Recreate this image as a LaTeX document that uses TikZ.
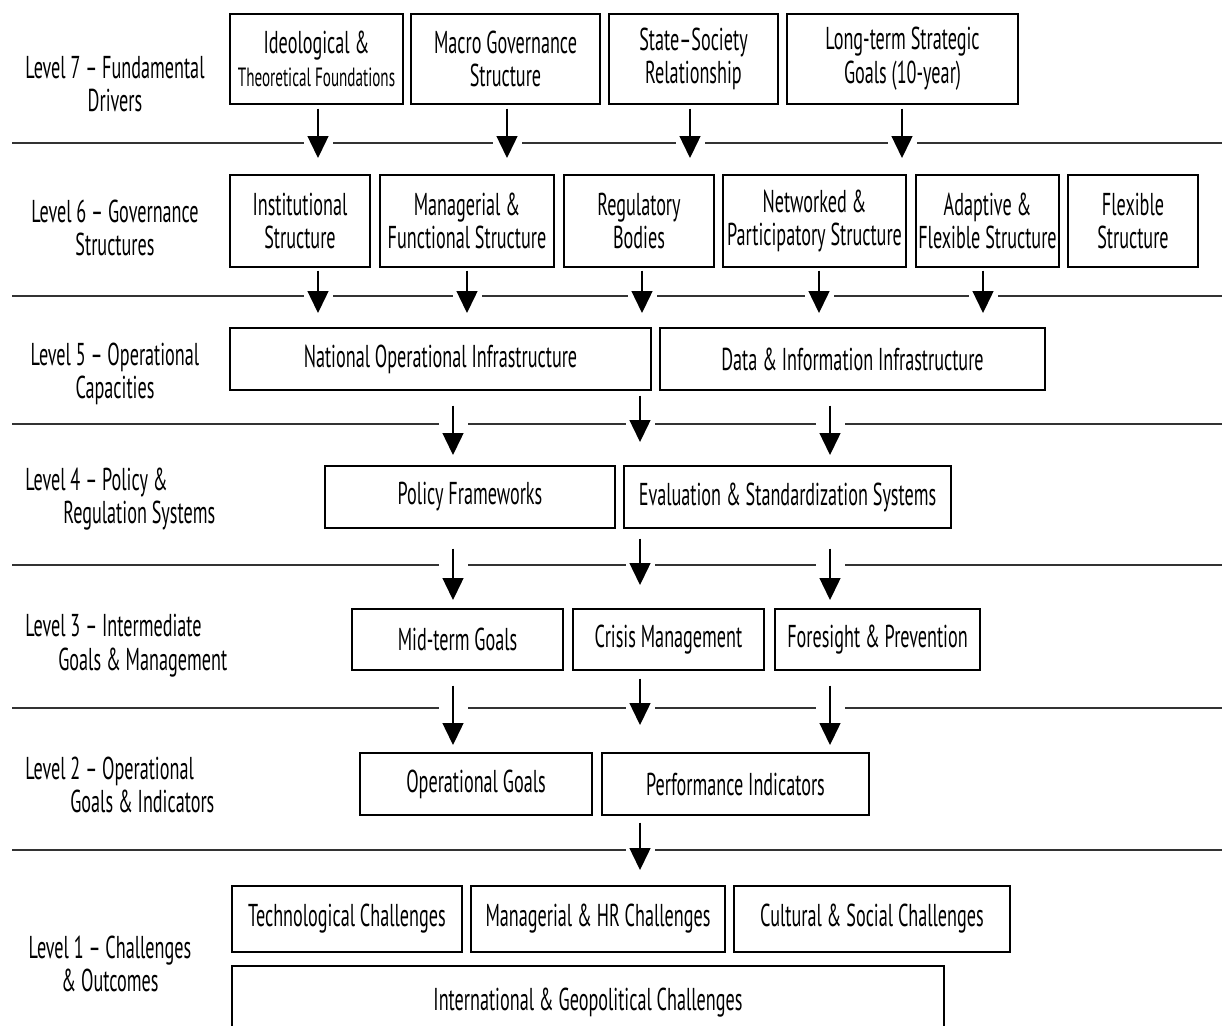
\documentclass[tikz,border=0pt]{standalone}
\usepackage{fontspec}
\setmainfont{PT Sans}[FakeStretch=0.575]
\usetikzlibrary{arrows.meta}

\newcommand{\boxfont}{\fontsize{18}{19.2}\selectfont}
\newcommand{\smallboxfont}{\fontsize{15}{19.2}\selectfont}

\begin{document}
\begin{tikzpicture}[x=0.02cm, y=-0.02cm,
  box/.style={draw, line width=0.8pt, align=center, inner sep=0pt, font=\boxfont},
  lvllabel/.style={inner sep=0pt, font=\boxfont},
  sep/.style={line width=1.1pt, black!80},
  flow/.style={line width=0.8pt, -{Triangle[width=0.42cm, length=0.44cm]},
    shorten <=#1, preaction={draw=white, line width=0.58cm, -}}]
  \useasboundingbox (0,0) rectangle (1222,1025);

  % level labels
  \node[lvllabel, align=center] (lvl7) at (115,84) {Level 7 – Fundamental\\Drivers};
  \node[lvllabel, align=center] (lvl6) at (115,228) {Level 6 – Governance\\Structures};
  \node[lvllabel, align=center] (lvl5) at (115,374) {Level 5 – Operational\\Capacities};
  \node[lvllabel, align=left, anchor=west] (lvl4) at (25,499)
    {Level 4 – Policy \&\\\hspace*{0.76cm}Regulation Systems};
  \node[lvllabel, align=left, anchor=west] (lvl3) at (25,646)
    {Level 3 – Intermediate\\\hspace*{0.66cm}Goals \& Management};
  \node[lvllabel, align=left, anchor=west] (lvl2) at (25,785)
    {Level 2 – Operational\\\hspace*{0.9cm}Goals \& Indicators};
  \node[lvllabel, align=center] (lvl1) at (110,964) {Level 1 – Challenges\\\& Outcomes};

  % level 7
  \node[box, minimum width=3.46cm, minimum height=1.8cm] (ideo) at (316.5,59)
    {Ideological \&\\{\smallboxfont Theoretical Foundations}};
  \node[box, minimum width=3.78cm, minimum height=1.8cm] (macro) at (505.5,59)
    {Macro Governance\\Structure};
  \node[box, minimum width=3.38cm, minimum height=1.8cm] (state) at (693.5,59)
    {State–Society\\Relationship};
  \node[box, minimum width=4.62cm, minimum height=1.8cm] (goals10) at (902.5,59)
    {Long-term Strategic\\Goals (10-year)};

  % level 6
  \node[box, minimum width=2.8cm, minimum height=1.84cm] (inst) at (300,221)
    {Institutional\\Structure};
  \node[box, minimum width=3.48cm, minimum height=1.84cm] (manag) at (467,221)
    {Managerial \&\\Functional Structure};
  \node[box, minimum width=3.0cm, minimum height=1.84cm] (regul) at (639,221)
    {Regulatory\\Bodies};
  \node[box, minimum width=3.66cm, minimum height=1.84cm] (netw) at (814.5,221)
    {Networked \&\\Participatory Structure};
  \node[box, minimum width=2.86cm, minimum height=1.84cm] (adapt) at (987.5,221)
    {Adaptive \&\\Flexible Structure};
  \node[box, minimum width=2.6cm, minimum height=1.84cm] (flex) at (1133,221)
    {Flexible\\Structure};

  % level 5
  \node[box, minimum width=8.42cm, minimum height=1.24cm] (natops) at (440.5,359)
    {National Operational Infrastructure};
  \node[box, minimum width=7.7cm, minimum height=1.24cm] (datainf) at (852.5,359)
    {Data \& Information Infrastructure};

  % level 4
  \node[box, minimum width=5.8cm, minimum height=1.24cm] (policy) at (470,497)
    {Policy Frameworks};
  \node[box, minimum width=6.54cm, minimum height=1.24cm] (evalsys) at (787.5,497)
    {Evaluation \& Standardization Systems};

  % level 3
  \node[box, minimum width=4.22cm, minimum height=1.22cm] (midterm) at (457.5,639.5)
    {Mid-term Goals};
  \node[box, minimum width=3.82cm, minimum height=1.22cm] (crisis) at (668.5,639.5)
    {Crisis Management};
  \node[box, minimum width=4.1cm, minimum height=1.22cm] (foresight) at (877.5,639.5)
    {Foresight \& Prevention};

  % level 2
  \node[box, minimum width=4.64cm, minimum height=1.24cm] (opgoals) at (476,784)
    {Operational Goals};
  \node[box, minimum width=5.34cm, minimum height=1.24cm] (perfind) at (735.5,784)
    {Performance Indicators};

  % level 1
  \node[box, minimum width=4.6cm, minimum height=1.32cm] (techch) at (347,919)
    {Technological Challenges};
  \node[box, minimum width=5.08cm, minimum height=1.32cm] (hrch) at (598,919)
    {Managerial \& HR Challenges};
  \node[box, minimum width=5.52cm, minimum height=1.32cm] (cultch) at (872,919)
    {Cultural \& Social Challenges};
  \node[box, minimum width=14.24cm, minimum height=1.48cm] (intlch) at (588,1003)
    {International \& Geopolitical Challenges};

  % separators
  \foreach \y in {143,296,424,565,708,850}
    \draw[sep] (12,\y) -- (1222,\y);

  % arrow tips
  \coordinate (t7a) at (318,158);
  \coordinate (t7b) at (507,158);
  \coordinate (t7c) at (690,158);
  \coordinate (t7d) at (902,158);
  \coordinate (t6a) at (318,313);
  \coordinate (t6b) at (467,313);
  \coordinate (t6c) at (642,313);
  \coordinate (t6d) at (819,313);
  \coordinate (t6e) at (983,313);
  \coordinate (t5a) at (453,455);
  \coordinate (t5b) at (640,442);
  \coordinate (t5c) at (830,455);
  \coordinate (t4a) at (453,600);
  \coordinate (t4b) at (640,585);
  \coordinate (t4c) at (830,600);
  \coordinate (t3a) at (453,745);
  \coordinate (t3b) at (640,725);
  \coordinate (t3c) at (830,745);
  \coordinate (t2a) at (640,870);

  % arrows
  \draw[flow=0.08cm] (ideo.south -| t7a) -- (t7a);
  \draw[flow=0.08cm] (macro.south -| t7b) -- (t7b);
  \draw[flow=0.08cm] (state.south -| t7c) -- (t7c);
  \draw[flow=0.08cm] (goals10.south -| t7d) -- (t7d);
  \draw[flow=0.06cm] (inst.south -| t6a) -- (t6a);
  \draw[flow=0.06cm] (manag.south -| t6b) -- (t6b);
  \draw[flow=0.06cm] (regul.south -| t6c) -- (t6c);
  \draw[flow=0.06cm] (netw.south -| t6d) -- (t6d);
  \draw[flow=0.06cm] (adapt.south -| t6e) -- (t6e);
  \draw[flow=0.3cm] (natops.south -| t5a) -- (t5a);
  \draw[flow=0.1cm] (natops.south -| t5b) -- (t5b);
  \draw[flow=0.3cm] (datainf.south -| t5c) -- (t5c);
  \draw[flow=0.4cm] (policy.south -| t4a) -- (t4a);
  \draw[flow=0.2cm] (evalsys.south -| t4b) -- (t4b);
  \draw[flow=0.4cm] (evalsys.south -| t4c) -- (t4c);
  \draw[flow=0.3cm] (midterm.south -| t3a) -- (t3a);
  \draw[flow=0.16cm] (crisis.south -| t3b) -- (t3b);
  \draw[flow=0.3cm] (foresight.south -| t3c) -- (t3c);
  \draw[flow=0.14cm] (perfind.south -| t2a) -- (t2a);
\end{tikzpicture}
\end{document}
